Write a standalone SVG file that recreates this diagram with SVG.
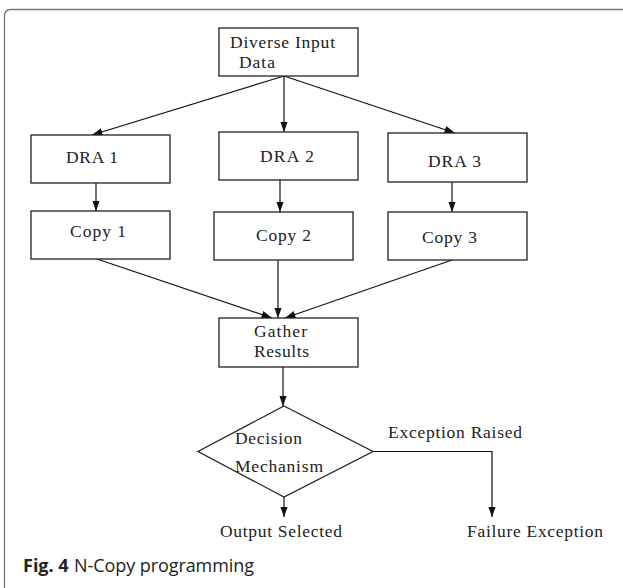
<svg xmlns="http://www.w3.org/2000/svg" width="623" height="588" viewBox="0 0 623 588">
  <defs>
    <marker id="ah" markerWidth="11" markerHeight="8" refX="10.5" refY="3.75" orient="auto" markerUnits="userSpaceOnUse">
      <path d="M0,0 L10.5,3.75 L0,7.5 z" fill="#111"/>
    </marker>
    <style>
      .box { fill: #fff; stroke: #222; stroke-width: 1.3; }
      .t { font-family: "Liberation Serif", "Times New Roman", serif; font-size: 17.5px; fill: #222; }
      .c { fill: none; stroke: #111; stroke-width: 1.2; }
      .a { marker-end: url(#ah); }
      .cap { font-family: "Open Sans", "Liberation Sans", sans-serif; font-size: 18px; fill: #222; }
    </style>
  </defs>
  <rect width="623" height="588" fill="#fff"/>
  <path d="M4.5,588 V16 Q4.5,9.5 11,9.5 H623" fill="none" stroke="#777" stroke-width="1.3"/>

  <g id="connectors">
    <line class="c a" x1="284" y1="76" x2="92" y2="135"/>
    <line class="c a" x1="284" y1="76" x2="284" y2="132"/>
    <line class="c a" x1="284" y1="76" x2="455" y2="133"/>
    <line class="c a" x1="96" y1="183" x2="96" y2="211"/>
    <line class="c a" x1="280" y1="180" x2="280" y2="212"/>
    <line class="c a" x1="452" y1="182" x2="452" y2="212"/>
    <line class="c a" x1="97" y1="259" x2="272" y2="318"/>
    <line class="c a" x1="278" y1="260" x2="278" y2="318"/>
    <line class="c a" x1="452" y1="260" x2="285" y2="318"/>
    <line class="c a" x1="283" y1="367" x2="283" y2="406"/>
    <line class="c a" x1="284" y1="497" x2="284" y2="517"/>
    <polyline class="c a" points="373,451.5 492,451.5 492,517"/>
    <text class="t" x="388" y="438" textLength="134">Exception Raised</text>
  </g>

  <g id="diverse-input">
    <rect class="box" x="219" y="28" width="139" height="48"/>
    <text class="t" x="230" y="48" textLength="105">Diverse Input</text>
    <text class="t" x="239" y="68" textLength="36">Data</text>
  </g>
  <g id="dra1">
    <rect class="box" x="31" y="135" width="139" height="48"/>
    <text class="t" x="66" y="163" textLength="52">DRA 1</text>
  </g>
  <g id="dra2">
    <rect class="box" x="219" y="132" width="139" height="48"/>
    <text class="t" x="260" y="162" textLength="54">DRA 2</text>
  </g>
  <g id="dra3">
    <rect class="box" x="388" y="133" width="139" height="49"/>
    <text class="t" x="428" y="167" textLength="53">DRA 3</text>
  </g>
  <g id="copy1">
    <rect class="box" x="31" y="211" width="139" height="48"/>
    <text class="t" x="70" y="237" textLength="56">Copy 1</text>
  </g>
  <g id="copy2">
    <rect class="box" x="214" y="212" width="139" height="48"/>
    <text class="t" x="256" y="241" textLength="55">Copy 2</text>
  </g>
  <g id="copy3">
    <rect class="box" x="388" y="212" width="139" height="48"/>
    <text class="t" x="422" y="243" textLength="55">Copy 3</text>
  </g>
  <g id="gather">
    <rect class="box" x="219" y="318" width="139" height="49"/>
    <text class="t" x="254" y="337" textLength="53">Gather</text>
    <text class="t" x="254" y="357" textLength="55">Results</text>
  </g>
  <g id="decision">
    <polygon class="box" points="284,406 373,451.5 284,497 198,451.5"/>
    <text class="t" x="235" y="444" textLength="67">Decision</text>
    <text class="t" x="235" y="472" textLength="88">Mechanism</text>
  </g>
  <g id="output-selected">
    <text class="t" x="220" y="537" textLength="122">Output Selected</text>
  </g>
  <g id="failure-exception">
    <text class="t" x="467" y="537" textLength="136">Failure Exception</text>
  </g>

  <text class="cap" x="23" y="572"><tspan font-weight="bold">Fig. 4</tspan><tspan x="74" textLength="180">N-Copy programming</tspan></text>
</svg>
